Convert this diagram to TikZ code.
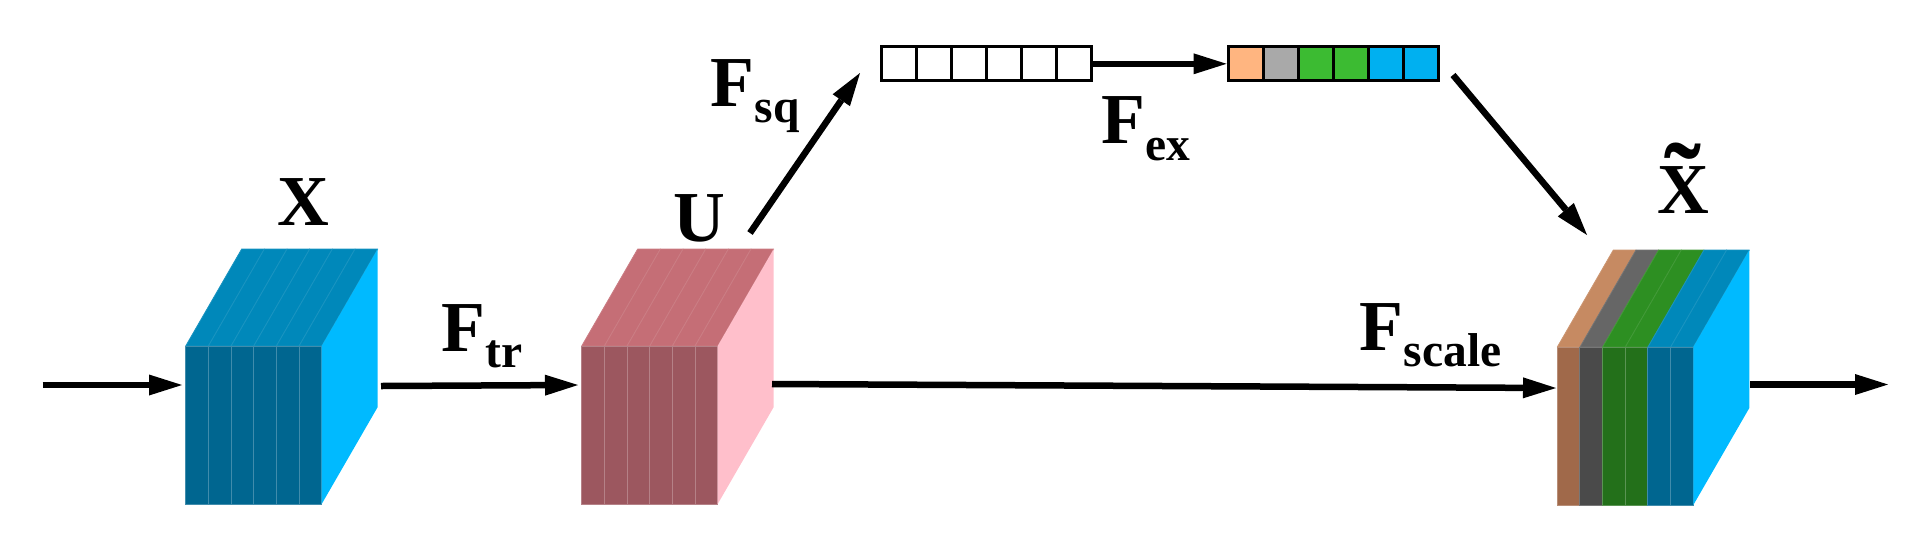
\documentclass[tikz,border=0pt]{standalone}
\usepackage{fontspec}
\setmainfont{Liberation Serif}
\newfontfamily\lblfont{Liberation Serif}
\usetikzlibrary{arrows.meta}
\definecolor{bfront}{RGB}{0,102,144}
\definecolor{btop}{RGB}{0,136,186}
\definecolor{bright}{RGB}{0,186,255}
\definecolor{rfront}{RGB}{156,87,95}
\definecolor{rtop}{RGB}{197,110,118}
\definecolor{rright}{RGB}{255,191,203}
\definecolor{brfront}{RGB}{160,105,74}
\definecolor{brtop}{RGB}{198,138,98}
\definecolor{gyfront}{RGB}{74,74,74}
\definecolor{gytop}{RGB}{102,102,102}
\definecolor{gnfront}{RGB}{35,112,26}
\definecolor{gntop}{RGB}{45,143,34}
\definecolor{corange}{RGB}{255,181,128}
\definecolor{cgray}{RGB}{169,169,169}
\definecolor{cgreen}{RGB}{60,187,50}
\definecolor{cblue}{RGB}{0,176,240}
\newcommand\mycube[4]{%
  \foreach \fc/\tc [count=\i from 0] in {#3} {
    \pgfmathsetmacro\xa{#1+\i*22.667}
    \filldraw[fill=\tc, draw=\tc!90!white, line width=0.8pt, line join=round]
      (\xa,#2) -- ++(22.667,0) -- ++(56,-97) -- ++(-22.667,0) -- cycle;
    \filldraw[fill=\fc, draw=\fc!75!white, line width=1pt]
      (\xa,#2) rectangle ++(22.667,158);
  }
  \fill[#4] (#1+136,#2) -- ++(56,-97) -- ++(0,158) -- ++(-56,97) -- cycle;
}
\newcommand\Fsub[1]{F\raisebox{-16.7pt}{\fontsize{47.5}{48}\selectfont #1}}
\newcommand\Xtil{\setbox0\hbox{X}\setbox2\hbox{\fontsize{110}{110}\selectfont ˜}%
  \rlap{\hbox to\wd0{\hss\raisebox{\dimexpr70pt-\ht2\relax}{\copy2}\hss}}\box0}
\tikzset{
  arr/.style={line width=6.5pt, -{Triangle[length=33pt,width=21pt,line width=0pt]}},
  lbl/.style={font=\lblfont\fontsize{71.7}{72}\selectfont\bfseries, inner sep=0pt},
  cell/.style={draw=black, line width=3pt, minimum width=35pt, minimum height=34pt, inner sep=0pt},
}
\begin{document}
\begin{tikzpicture}[x=1pt,y=-1pt]
\useasboundingbox (0,0) rectangle (1927,539);
% cubes
\mycube{185.7}{346}{bfront/btop,bfront/btop,bfront/btop,bfront/btop,bfront/btop,bfront/btop}{bright}
\mycube{581.7}{346}{rfront/rtop,rfront/rtop,rfront/rtop,rfront/rtop,rfront/rtop,rfront/rtop}{rright}
\mycube{1557.3}{347}{brfront/brtop,gyfront/gytop,gnfront/gntop,gnfront/gntop,bfront/btop,bfront/btop}{bright}
% vectors
\foreach \i in {0,...,5} {
  \node[cell, fill=white] (a\i) at (898.5+35*\i, 63.8) {};
}
\node[cell, fill=corange] (b0) at (1245.5, 63.8) {};
\node[cell, fill=cgray]   (b1) at (1280.5, 63.8) {};
\node[cell, fill=cgreen]  (b2) at (1315.5, 63.8) {};
\node[cell, fill=cgreen]  (b3) at (1350.5, 63.8) {};
\node[cell, fill=cblue]   (b4) at (1385.5, 63.8) {};
\node[cell, fill=cblue]   (b5) at (1420.5, 63.8) {};
% labels
\node[lbl, anchor=base] (lX) at (303,225) {X};
\node[lbl, anchor=base] (lU) at (699.3,241.7) {U};
\node[lbl, anchor=base] (lXt) at (1683,213.3) {\Xtil};
\node[lbl, anchor=base west] (ltr) at (441.7,351) {\Fsub{tr}};
\node[lbl, anchor=base west] (lsq) at (710.7,106) {\Fsub{sq}};
\node[lbl, anchor=base west] (lex) at (1101.7,143.3) {\Fsub{ex}};
\node[lbl, anchor=base west] (lsc) at (1359.7,350) {\Fsub{scale}};
% connector ends
\coordinate (in) at (42.7,385);
\coordinate (Xl) at (182,385);
\coordinate (Xr) at (381,386);
\coordinate (Ul) at (578,385);
\coordinate (Ur) at (772,384);
\coordinate (Sl) at (1556,388);
\coordinate (Ut) at (750,233);
\coordinate (sq) at (860,73);
\coordinate (ex) at (1453,75);
\coordinate (St) at (1587,235);
\coordinate (Sr) at (1750,384.5);
\coordinate (out) at (1888,384.5);
% connectors
\draw[arr] (in) -- (Xl);
\draw[arr] (Xr) -- (Ul);
\draw[arr] (Ur) -- (Sl);
\draw[arr] (Ut) -- (sq);
\draw[arr] (a5.east) -- (b0.west);
\draw[arr] (ex) -- (St);
\draw[arr] (Sr) -- (out);
\end{tikzpicture}
\end{document}
